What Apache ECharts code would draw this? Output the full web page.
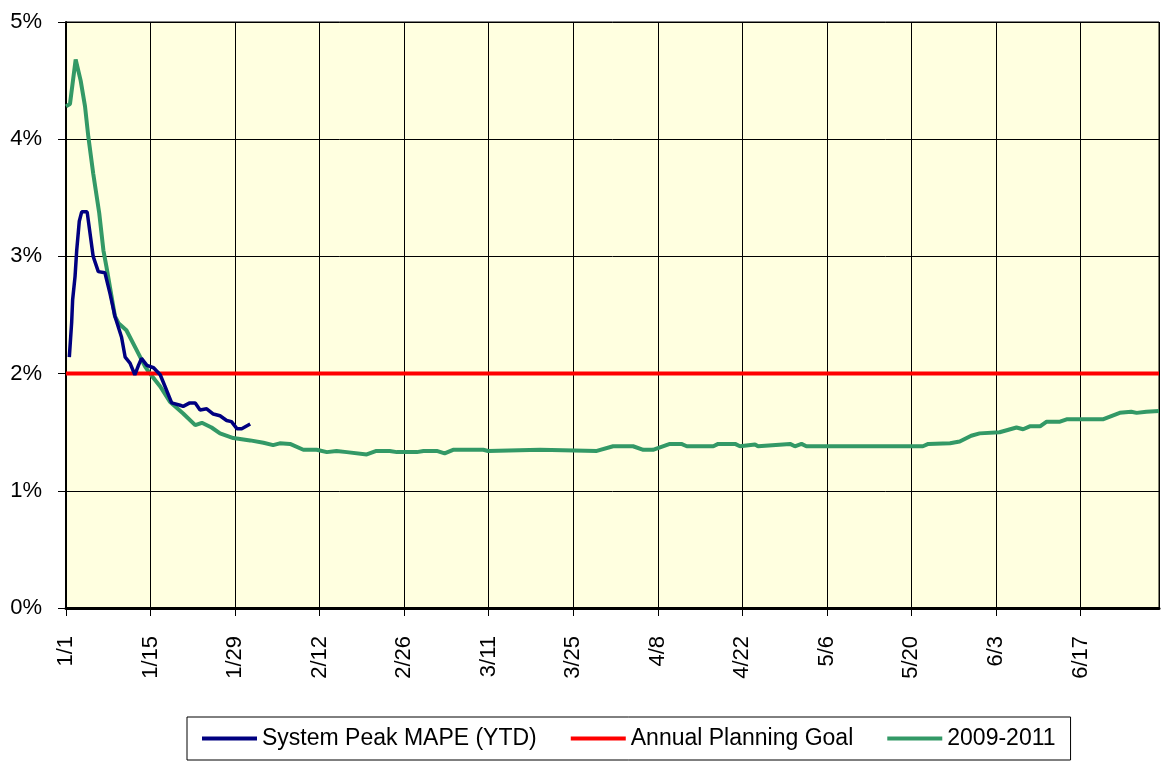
<!DOCTYPE html>
<html>
<head>
<meta charset="utf-8">
<script src="https://cdn.jsdelivr.net/npm/echarts@6/dist/echarts.min.js"></script>
<style>
  html, body { margin: 0; padding: 0; background: #fff; }
  #chart { width: 1162px; height: 763px; }
</style>
</head>
<body>
<div id="chart"></div>
<script>
// days are counted from 1/1 (day 0), values are MAPE in %
// leap year calendar: 1/1 + 70 days = 3/11
var monthDays = [31, 29, 31, 30, 31, 30, 31]
var tickStep = 14

var ytdDays = [0.55, 0.94, 1.1, 1.5, 1.77, 2.2, 2.6, 3.5, 4.5, 5.35, 6.45, 7.3, 8.1, 9.2, 9.8,
  10.6, 11.4, 12.0, 12.5, 13.4, 14.5, 15.6, 16.4, 17.5, 18.9, 19.4, 20.5, 21.4, 22.2,
  23.3, 24.4, 25.5, 26.6, 27.4, 28.3, 29.1, 30.5]
var ytdValues = [2.14, 2.44, 2.63, 2.83, 3.05, 3.30, 3.38, 3.38, 3.00, 2.87, 2.86, 2.68, 2.49, 2.31, 2.14,
  2.09, 1.99, 2.07, 2.13, 2.07, 2.05, 1.99, 1.89, 1.75, 1.73, 1.72, 1.75, 1.75, 1.69,
  1.70, 1.655, 1.64, 1.60, 1.59, 1.53, 1.53, 1.57]

var goalDays = [0, 181]
var goalValues = [2, 2]

var histDays = [0, 0.66, 1.6, 2.43, 3.15, 3.7, 4.5, 5.5, 6.2, 6.7, 8.1, 8.7, 10.0, 11.7, 13.1, 13.9,
  15.6, 17.2, 19.4, 21.4, 22.5, 24.1, 25.5, 27.7, 30.5, 32.7, 34.3, 35.4, 37.1, 39.3,
  41.5, 43.2, 44.8, 46.5, 49.8, 51.4, 53.6, 54.8, 58.1, 59.2, 61.4, 62.7, 64.1, 69.1,
  69.9, 78.5, 87.9, 90.6, 93.9, 95.6, 97.2, 100.0, 101.9, 102.8, 107.2, 108.0, 110.8,
  111.6, 114.1, 114.6, 119.9, 120.7, 121.8, 122.6, 141.9, 142.8, 146.4, 148.0, 149.9,
  151.3, 154.6, 157.4, 158.5, 159.6, 161.3, 162.4, 164.6, 165.7, 171.7, 174.5, 176.4,
  177.3, 178.9, 181]
var histValues = [4.28, 4.30, 4.68, 4.50, 4.28, 4.02, 3.71, 3.37, 3.05, 2.91, 2.49, 2.43, 2.37, 2.20, 2.06, 2.00,
  1.89, 1.76, 1.66, 1.56, 1.58, 1.54, 1.49, 1.45, 1.43, 1.41, 1.39, 1.405, 1.40, 1.35,
  1.35, 1.33, 1.34, 1.33, 1.31, 1.34, 1.34, 1.33, 1.33, 1.34, 1.34, 1.32, 1.35, 1.35,
  1.34, 1.35, 1.34, 1.38, 1.38, 1.35, 1.35, 1.40, 1.40, 1.38, 1.38, 1.40, 1.40,
  1.38, 1.395, 1.38, 1.40, 1.38, 1.40, 1.38, 1.38, 1.40, 1.405, 1.42, 1.47,
  1.49, 1.50, 1.54, 1.525, 1.55, 1.55, 1.59, 1.59, 1.61, 1.61, 1.665, 1.675,
  1.665, 1.675, 1.68]

function pairs(xs, ys) {
  return xs.map(function (x, i) { return [x, ys[i]] })
}

function dayLabel(d) {
  if (d % tickStep !== 0) return ''
  var m = 0
  while (d >= monthDays[m]) { d -= monthDays[m]; m++ }
  return (m + 1) + '/' + (d + 1)
}

var font = 'Liberation Sans, Arial, sans-serif'
var chart = echarts.init(document.getElementById('chart'))
var option = {
  animation: false,
  grid: {
    left: 66, right: 3, top: 22, height: 586,
    show: true, backgroundColor: '#FFFFE0', borderColor: '#000', borderWidth: 1
  },
  xAxis: {
    type: 'value',
    min: 0,
    max: 181,
    interval: tickStep,
    axisLine: { lineStyle: { color: '#000', width: 3 } },
    axisTick: { show: true, length: 8, lineStyle: { color: '#000' } },
    axisLabel: {
      rotate: 90, margin: 28, color: '#000', fontSize: 22, fontFamily: font,
      showMaxLabel: false,
      formatter: dayLabel
    },
    splitLine: { show: true, lineStyle: { color: '#000', width: 1 } }
  },
  yAxis: {
    type: 'value',
    min: 0,
    max: 5,
    interval: 1,
    axisLine: { show: true, lineStyle: { color: '#000', width: 2 } },
    axisTick: { show: true, length: 8, lineStyle: { color: '#000' } },
    axisLabel: {
      margin: 24, color: '#000', fontSize: 22, fontFamily: font,
      formatter: '{value}%'
    },
    splitLine: { show: true, lineStyle: { color: '#000', width: 1 } }
  },
  legend: {
    left: 187,
    top: 717,
    padding: [10, 15, 10, 15],
    borderColor: '#000',
    borderWidth: 1,
    icon: 'rect',
    itemWidth: 55,
    itemHeight: 4,
    itemGap: 34,
    textStyle: { color: '#000', fontSize: 23, fontFamily: font },
    data: ['System Peak MAPE (YTD)', 'Annual Planning Goal', '2009-2011']
  },
  series: [
    {
      name: 'System Peak MAPE (YTD)',
      type: 'line',
      symbol: 'none',
      z: 4,
      color: '#000080',
      lineStyle: { width: 3.5, color: '#000080' },
      data: pairs(ytdDays, ytdValues)
    },
    {
      name: 'Annual Planning Goal',
      type: 'line',
      symbol: 'none',
      z: 3,
      color: '#FF0000',
      lineStyle: { width: 4, color: '#FF0000' },
      data: pairs(goalDays, goalValues)
    },
    {
      name: '2009-2011',
      type: 'line',
      symbol: 'none',
      z: 2,
      color: '#339966',
      lineStyle: { width: 4, color: '#339966' },
      data: pairs(histDays, histValues)
    }
  ]
}
chart.setOption(option)
</script>
</body>
</html>
